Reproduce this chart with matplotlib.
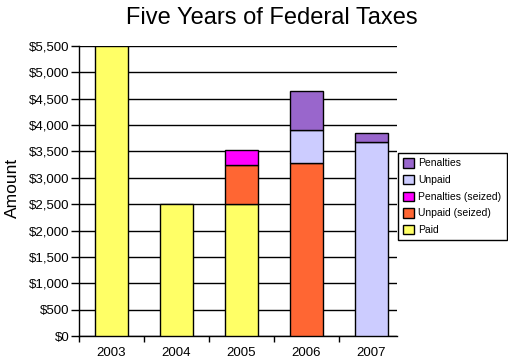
import numpy as np
import matplotlib as mpl
mpl.use('Agg')
import matplotlib.pyplot as plt
from matplotlib.ticker import FuncFormatter, MultipleLocator

mpl.rcParams['font.family'] = ['Liberation Sans', 'DejaVu Sans']

# data
years = ['2003', '2004', '2005', '2006', '2007']
paid = [5500, 2500, 2500, 0, 0]
unpaid_seized = [0, 0, 750, 3275, 0]
penalties_seized = [0, 0, 275, 0, 0]
unpaid = [0, 0, 0, 625, 3675]
penalties = [0, 0, 0, 750, 175]

series = [
    ('Paid', paid, '#FFFF66'),
    ('Unpaid (seized)', unpaid_seized, '#FF6633'),
    ('Penalties (seized)', penalties_seized, '#FF00FF'),
    ('Unpaid', unpaid, '#CCCCFF'),
    ('Penalties', penalties, '#9966CC'),
]

W, H = 508, 361
fig = plt.figure(figsize=(W / 100, H / 100), dpi=100)
ax = fig.add_axes([79 / W, 25 / H, (397 - 79) / W, 290 / H])

x = np.arange(len(years))
bottom = np.zeros(len(years))
handles = []
for name, vals, col in series:
    vals = np.array(vals, dtype=float)
    keep = vals > 0
    h = ax.bar(x[keep], vals[keep], width=0.5, bottom=bottom[keep], color=col,
               edgecolor='black', linewidth=1, label=name, zorder=3)
    handles.append(h)
    bottom += vals

ax.set_xlim(-0.5, 4.5 - 7 / 65)
ax.set_ylim(0, 5500)
ax.yaxis.set_major_locator(MultipleLocator(500))
ax.yaxis.set_major_formatter(FuncFormatter(lambda v, p: f'${v:,.0f}'))
ax.grid(axis='y', color='black', linewidth=1, zorder=0)
ax.set_axisbelow(True)

ax.set_xticks(np.arange(-0.5, 4.0, 1.0))
ax.set_xticklabels([])
ax.set_xticks(x, minor=True)
ax.set_xticklabels(years, minor=True)
ax.tick_params(axis='x', which='major', length=4, width=1, direction='out')
ax.tick_params(axis='x', which='minor', length=0, pad=8, labelsize=9.5)
ax.tick_params(axis='y', length=6, width=1, pad=1, labelsize=9.5)

for s in ['top', 'right']:
    ax.spines[s].set_visible(False)
for s in ['left', 'bottom']:
    ax.spines[s].set_linewidth(1)

fig.text(272 / W, 1 - 18 / H, 'Five Years of Federal Taxes', ha='center', va='center', fontsize=17)
fig.text(12 / W, 1 - 187.5 / H, 'Amount', rotation=90, ha='center', va='center', fontsize=12.5)

leg = fig.legend(handles[::-1], [s[0] for s in series][::-1],
                 loc='upper left', bbox_to_anchor=(398 / W, 1 - 153 / H),
                 fontsize=7.5, handlelength=1.0, handleheight=1.0,
                 handletextpad=0.45, labelspacing=0.62, borderpad=0.5,
                 borderaxespad=0, fancybox=False, framealpha=1)
leg.get_frame().set_edgecolor('black')
leg.get_frame().set_linewidth(1)

fig.savefig('out.png', dpi=100)
